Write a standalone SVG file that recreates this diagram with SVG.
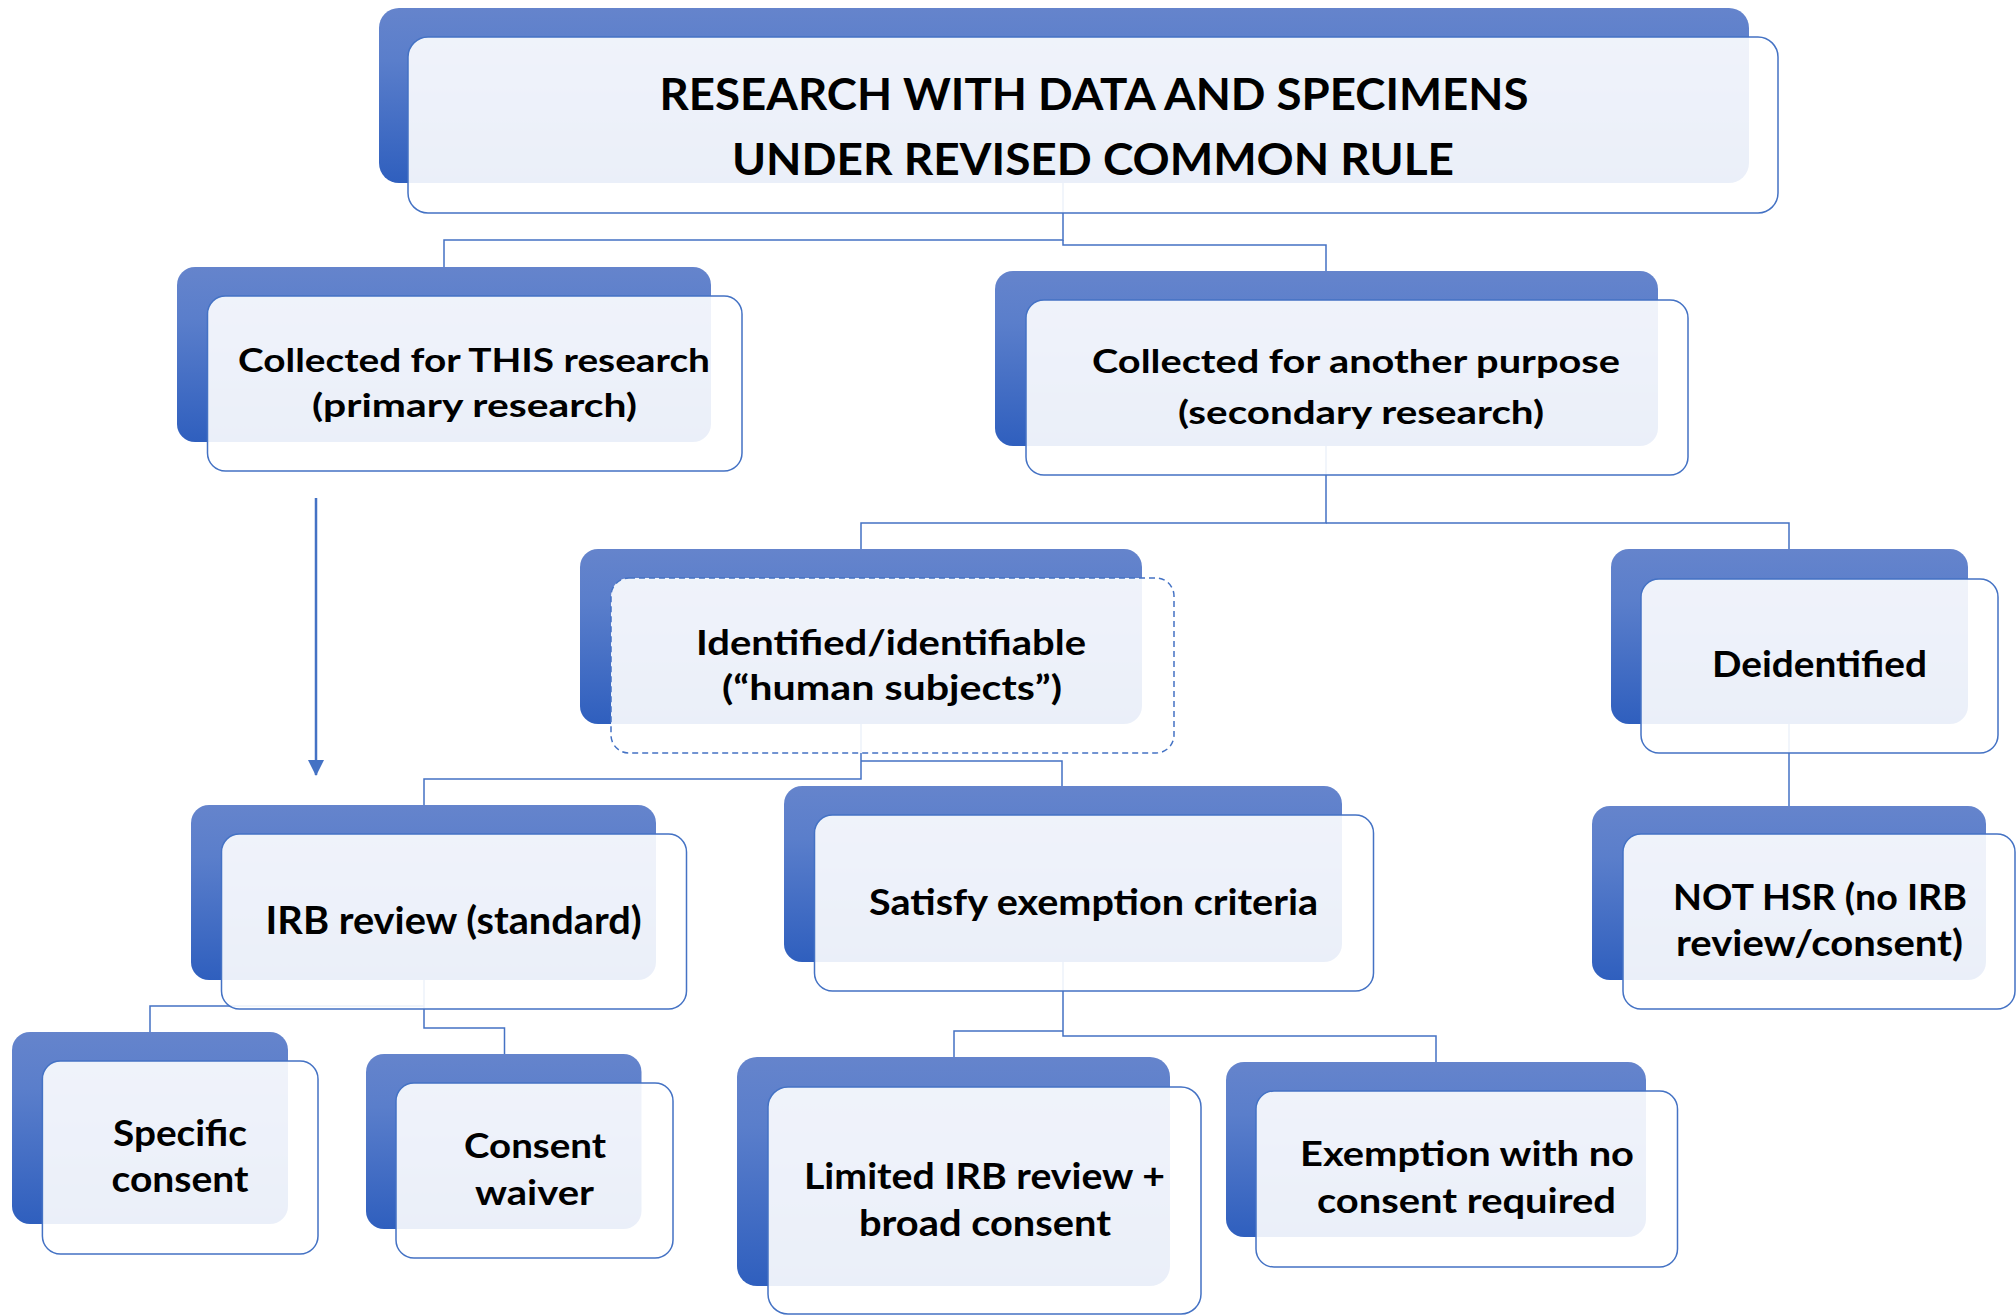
<svg xmlns="http://www.w3.org/2000/svg" width="2016" height="1315" viewBox="0 0 2016 1315">
<defs>
<linearGradient id="g" x1="0" y1="0" x2="0" y2="1">
<stop offset="0" stop-color="#6584CC"/>
<stop offset="0.3" stop-color="#5A7ECB"/>
<stop offset="1" stop-color="#2F5FBE"/>
</linearGradient>
<marker id="arrow" markerWidth="16" markerHeight="16" refX="15" refY="8" orient="auto" markerUnits="userSpaceOnUse">
<path d="M0,0 L16,8 L0,16 Z" fill="#4472C4"/>
</marker>
</defs>
<style>
.bk{fill:url(#g);}
.fr{fill:#ffffff;fill-opacity:0.9;stroke:#4472C4;stroke-width:1.5;}
.dash{stroke-dasharray:6,4;}
.c{fill:none;stroke:#4472C4;stroke-width:1.5;}
text{font-family:Lato,"Liberation Sans",sans-serif;font-weight:700;fill:#000;text-anchor:middle;}
</style>
<rect width="2016" height="1315" fill="#ffffff"/>
<g id="connectors">
<path class="c" d="M1063,150 V240 H444 V267"/>
<path class="c" d="M1063,240 V245 H1326 V271"/>
<path class="c" d="M1326,400 V523 H861 V549"/>
<path class="c" d="M1326,523 H1789 V549"/>
<path class="c" d="M861,700 V779 H424 V805"/>
<path class="c" d="M861,761 H1062 V786"/>
<path class="c" d="M1789,700 V806"/>
<path class="c" d="M424,950 V1028 H504.5 V1054"/>
<path class="c" d="M424,1006 H150 V1032"/>
<path class="c" d="M1063,930 V1036 H1436 V1062"/>
<path class="c" d="M1063,1031 H954 V1057"/>
<path d="M316,498 V775" fill="none" stroke="#4472C4" stroke-width="2.5" marker-end="url(#arrow)"/>
</g>
<g id="n-title">
<rect class="bk" x="379" y="8" width="1370" height="175" rx="20"/>
<rect class="fr" x="408" y="37" width="1370" height="176" rx="20"/>
<text x="1094" y="110" font-size="44" textLength="869" lengthAdjust="spacingAndGlyphs">RESEARCH WITH DATA AND SPECIMENS</text>
<text x="1093" y="175" font-size="44" textLength="722" lengthAdjust="spacingAndGlyphs">UNDER REVISED COMMON RULE</text>
</g>
<g id="n-primary">
<rect class="bk" x="177" y="267" width="534" height="175" rx="18"/>
<rect class="fr" x="207.5" y="296" width="534.5" height="175" rx="18"/>
<text x="474" y="372" font-size="33" textLength="472" lengthAdjust="spacingAndGlyphs">Collected for THIS research</text>
<text x="474.5" y="417" font-size="33" textLength="325" lengthAdjust="spacingAndGlyphs">(primary research)</text>
</g>
<g id="n-secondary">
<rect class="bk" x="995" y="271" width="663" height="175" rx="18"/>
<rect class="fr" x="1026" y="300" width="662" height="175" rx="18"/>
<text x="1356" y="373" font-size="33" textLength="528" lengthAdjust="spacingAndGlyphs">Collected for another purpose</text>
<text x="1361" y="424" font-size="33" textLength="366" lengthAdjust="spacingAndGlyphs">(secondary research)</text>
</g>
<g id="n-identified">
<rect class="bk" x="580" y="549" width="562" height="175" rx="18"/>
<rect class="fr dash" x="611" y="578" width="563" height="175" rx="18"/>
<text x="891" y="655" font-size="35" textLength="390" lengthAdjust="spacingAndGlyphs">Identified/identifiable</text>
<text x="892" y="700" font-size="35" textLength="340" lengthAdjust="spacingAndGlyphs">(“human subjects”)</text>
</g>
<g id="n-deidentified">
<rect class="bk" x="1611" y="549" width="357" height="175" rx="18"/>
<rect class="fr" x="1641" y="579" width="357" height="174" rx="18"/>
<text x="1819.5" y="677" font-size="36" textLength="215" lengthAdjust="spacingAndGlyphs">Deidentified</text>
</g>
<g id="n-irb">
<rect class="bk" x="191" y="805" width="465" height="175" rx="18"/>
<rect class="fr" x="221.5" y="834" width="465" height="175" rx="18"/>
<text x="453.6" y="934" font-size="38" textLength="376" lengthAdjust="spacingAndGlyphs">IRB review (standard)</text>
</g>
<g id="n-satisfy">
<rect class="bk" x="784" y="786" width="558" height="176" rx="18"/>
<rect class="fr" x="814.5" y="815" width="559" height="176" rx="18"/>
<text x="1093.5" y="915" font-size="37" textLength="449" lengthAdjust="spacingAndGlyphs">Satisfy exemption criteria</text>
</g>
<g id="n-nothsr">
<rect class="bk" x="1592" y="806" width="394" height="174" rx="18"/>
<rect class="fr" x="1623" y="834" width="392" height="175" rx="18"/>
<text x="1820" y="910" font-size="36" textLength="294" lengthAdjust="spacingAndGlyphs">NOT HSR (no IRB</text>
<text x="1819.5" y="956" font-size="36" textLength="287" lengthAdjust="spacingAndGlyphs">review/consent)</text>
</g>
<g id="n-specific">
<rect class="bk" x="12" y="1032" width="276" height="192" rx="18"/>
<rect class="fr" x="42.4" y="1061" width="275.6" height="193" rx="18"/>
<text x="180" y="1146" font-size="36" textLength="134" lengthAdjust="spacingAndGlyphs">Specific</text>
<text x="180" y="1192" font-size="36" textLength="137" lengthAdjust="spacingAndGlyphs">consent</text>
</g>
<g id="n-waiver">
<rect class="bk" x="366" y="1054" width="275.5" height="175" rx="18"/>
<rect class="fr" x="396" y="1083" width="277" height="175" rx="18"/>
<text x="535" y="1158" font-size="35" textLength="142" lengthAdjust="spacingAndGlyphs">Consent</text>
<text x="534.5" y="1205" font-size="35" textLength="119" lengthAdjust="spacingAndGlyphs">waiver</text>
</g>
<g id="n-limited">
<rect class="bk" x="737" y="1057" width="433" height="229" rx="20"/>
<rect class="fr" x="768" y="1087" width="433" height="227" rx="20"/>
<text x="984.5" y="1189" font-size="36" textLength="361" lengthAdjust="spacingAndGlyphs">Limited IRB review +</text>
<text x="985" y="1236" font-size="36" textLength="252" lengthAdjust="spacingAndGlyphs">broad consent</text>
</g>
<g id="n-exemption">
<rect class="bk" x="1226" y="1062" width="420" height="175" rx="18"/>
<rect class="fr" x="1256" y="1091" width="421.5" height="176" rx="18"/>
<text x="1467" y="1166" font-size="34.5" textLength="334" lengthAdjust="spacingAndGlyphs">Exemption with no</text>
<text x="1466.5" y="1213" font-size="34.5" textLength="299" lengthAdjust="spacingAndGlyphs">consent required</text>
</g>
</svg>
